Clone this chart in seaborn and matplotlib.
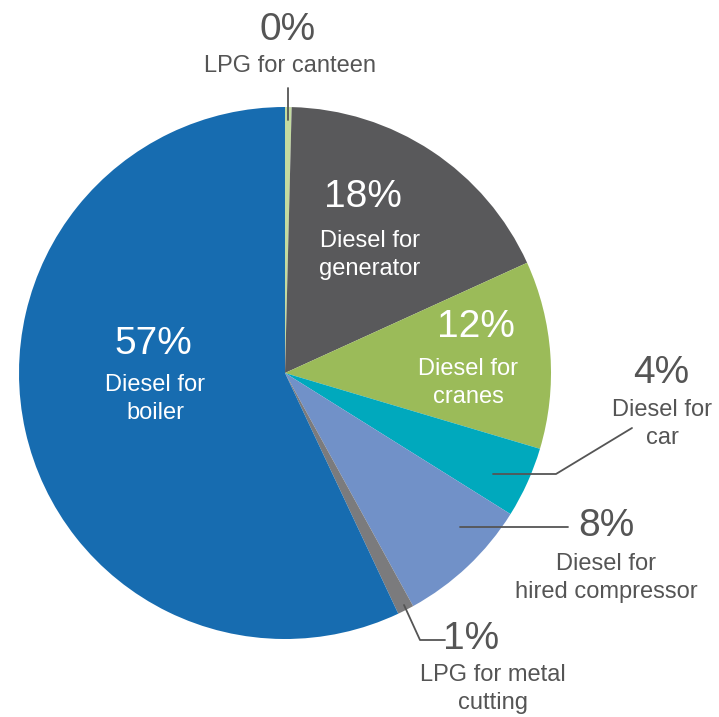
import matplotlib
matplotlib.use("Agg")
import matplotlib.pyplot as plt
import seaborn as sns

# slice data, clockwise from 12 o'clock
labels = ["LPG for canteen", "Diesel for\ngenerator", "Diesel for\ncranes", "Diesel for\ncar",
          "Diesel for\nhired compressor", "LPG for metal\ncutting", "Diesel for\nboiler"]
shares = [0.4, 17.8, 11.4, 4.3, 8.1, 1.0, 57.0]
pct_text = ["0%", "18%", "12%", "4%", "8%", "1%", "57%"]
colors = ["#c4dba0", "#59595b", "#9bbb59", "#00a9bd", "#7191c8", "#7b7b7d", "#176cb0"]

sns.set_theme(style="white")
plt.rcParams['font.family'] = ['Liberation Sans', 'DejaVu Sans']

W, H = 719, 717
fig = plt.figure(figsize=(W / 100, H / 100), dpi=100)
ax = fig.add_axes([0, 0, 1, 1])

cx, cy, r = 285, H - 373, 266
ax.pie(shares, colors=colors, startangle=90, counterclock=False, center=(cx, cy), radius=r,
       wedgeprops=dict(linewidth=0), frame=True)
ax.set_xlim(0, W)
ax.set_ylim(0, H)
ax.set_aspect("equal")
ax.axis("off")

def py(y):
    return H - y

# text placement (pixel coords of the reference): pct pos, label pos, text colour
place = [
    ((288, 30), (290, 66), "#555555"),
    ((363, 197), (370, 255), "white"),
    ((476, 327), (468, 383), "white"),
    ((661, 373), (662, 424), "#555555"),
    ((606, 526), (606, 578), "#555555"),
    ((471, 639), (493, 689), "#555555"),
    ((153, 344), (155, 399), "white"),
]
for pct, lab, (pp, lp, c) in zip(pct_text, labels, place):
    ax.text(pp[0], py(pp[1]), pct, ha="center", va="center", fontsize=28, color=c)
    ax.text(lp[0], py(lp[1]), lab, ha="center", va="center", fontsize=17, color=c,
            linespacing=1.32, multialignment="center")

# leader lines
lc = "#555555"
ax.plot([288, 288], [py(88), py(120)], color=lc, lw=1.3)
ax.plot([493, 556, 632], [py(474), py(474), py(428)], color=lc, lw=1.3)
ax.plot([460, 568], [py(527), py(527)], color=lc, lw=1.3)
ax.plot([404, 420, 445], [py(605), py(640), py(640)], color=lc, lw=1.3)

fig.savefig("out.png", dpi=100, facecolor="white")
